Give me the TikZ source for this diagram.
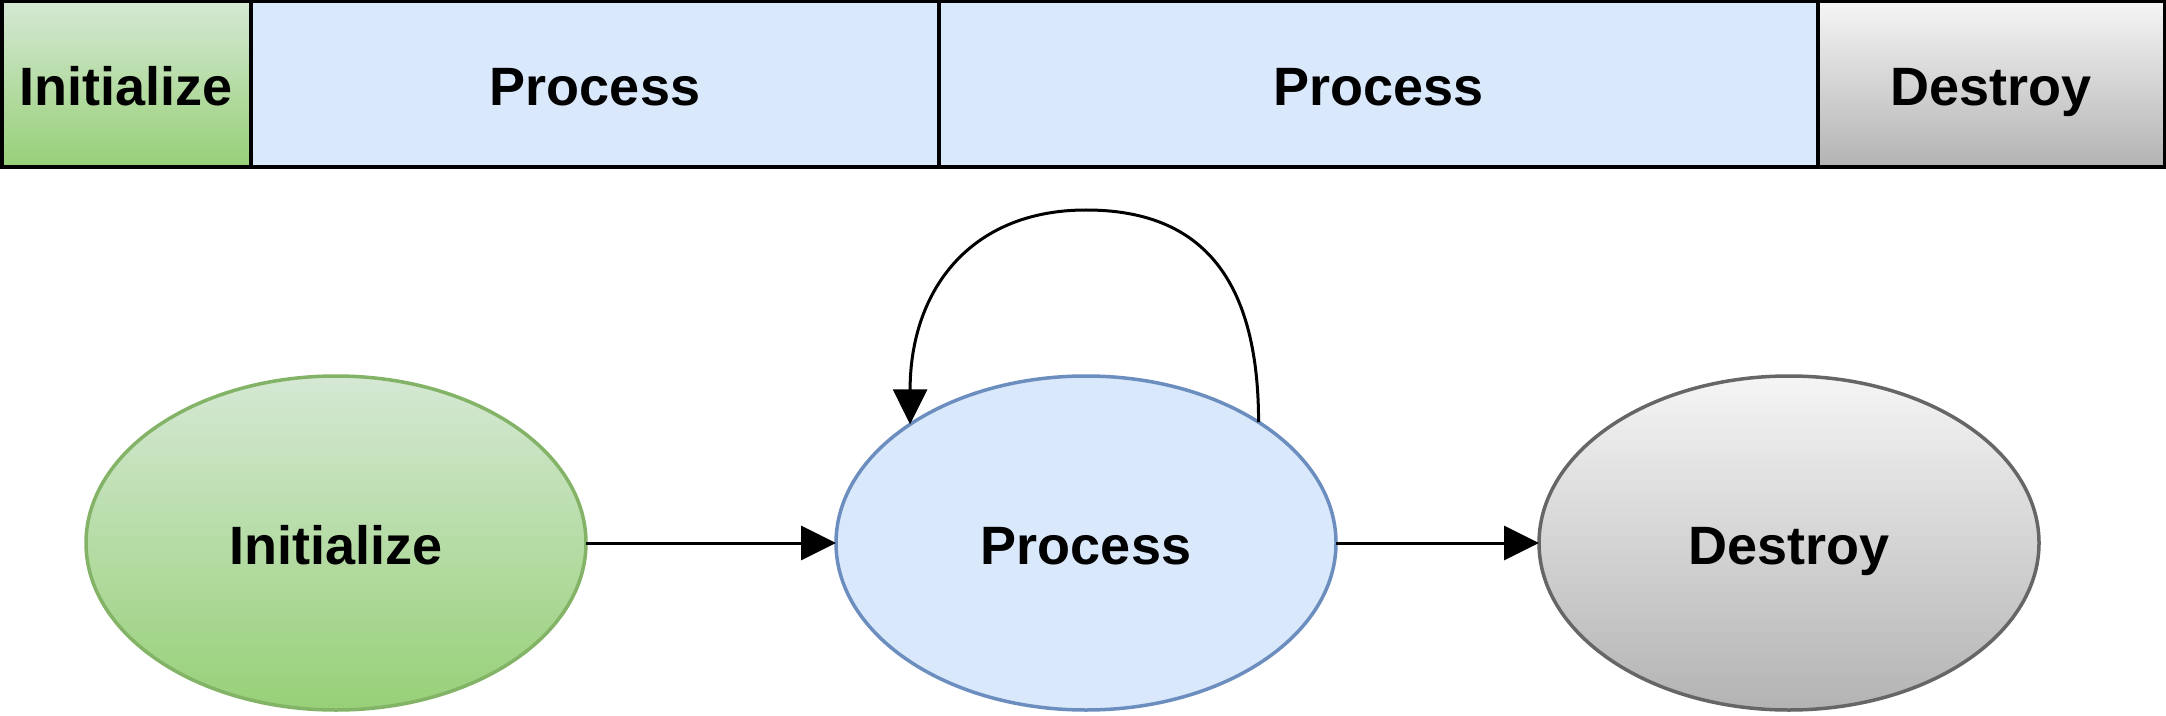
\documentclass[tikz,border=0pt]{standalone}
\usepackage{fontspec}
\setmainfont{Liberation Sans}
\usepackage{tikz}
\usetikzlibrary{shapes,arrows.meta,positioning}
\definecolor{initfill}{HTML}{D5E8D4}
\definecolor{initgrad}{HTML}{97D077}
\definecolor{initline}{HTML}{82B366}
\definecolor{procfill}{HTML}{DAE8FC}
\definecolor{procline}{HTML}{6C8EBF}
\definecolor{destfill}{HTML}{F5F5F5}
\definecolor{destgrad}{HTML}{B3B3B3}
\definecolor{destline}{HTML}{666666}
\tikzstyle{arrow} = [draw, line width=1.5pt, -{Triangle[length=17.5pt,width=17pt]}]
\tikzstyle{bar} = [draw, line width=2pt, rectangle, outer sep=0pt, inner sep=0pt, minimum height=82.75pt, text height=21pt, text depth=0pt, font=\fontsize{27}{30}\selectfont\bfseries]
\tikzstyle{phase} = [draw, line width=1.75pt, ellipse, outer sep=0pt, inner sep=0pt, minimum width=250pt, minimum height=167pt, text height=21pt, text depth=0pt, font=\fontsize{27}{30}\selectfont\bfseries]

\begin{document}
\begin{tikzpicture}[x=0.5pt, y=-0.5pt]
      \useasboundingbox (0,0) rectangle (2166,716);

      \node (barinit) at (1.5,1.5) [bar, anchor=north west, minimum width=124.75pt, top color=initfill, bottom color=initgrad] {Initialize};
      \node (barproc) [bar, right=0pt of barinit, minimum width=344pt, fill=procfill] {Process};
      \node (barproctwo) [bar, right=0pt of barproc, minimum width=439.5pt, fill=procfill] {Process};
      \node (bardestroy) [bar, right=0pt of barproctwo, minimum width=173.25pt, top color=destfill, bottom color=destgrad] {Destroy};

      \node (init) at (336,543) [phase, draw=initline, top color=initfill, bottom color=initgrad] {Initialize};
      \node (proc) at (1086,543) [phase, draw=procline, fill=procfill] {Process};
      \node (destroy) at (1789,543) [phase, draw=destline, top color=destfill, bottom color=destgrad] {Destroy};
      \coordinate (looptop) at (1086,210);

      \draw[arrow] (init) -- (proc);
      \draw[arrow] (proc.35) .. controls +(0,-148) and +(112,0) .. (looptop)
                             .. controls +(-115,0) and +(0,-135) .. (proc.146);
      \draw[arrow] (proc) -- (destroy);
    \end{tikzpicture}
\end{document}
